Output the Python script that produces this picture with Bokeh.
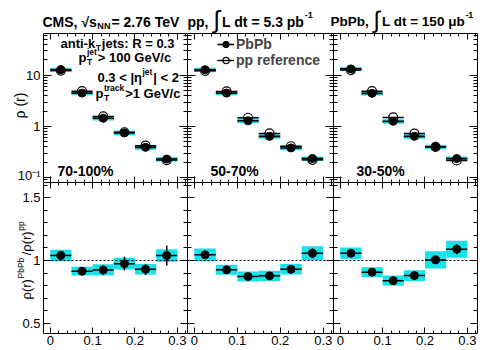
import math
from bokeh.plotting import figure
from bokeh.models import (Range1d, ColumnDataSource, Label, LinearAxis, LogAxis,
                          Legend, LegendItem, SingleIntervalTicker, LogTicker,
                          CustomJSTickFormatter, BasicTickFormatter)
from bokeh.layouts import column, row
from bokeh.embed import file_html
from bokeh.resources import INLINE

# ---------------- data ----------------
bin_low = [0.00, 0.05, 0.10, 0.15, 0.20, 0.25]
bin_high = [0.05, 0.10, 0.15, 0.20, 0.25, 0.30]
centrality_labels = ["70-100%", "50-70%", "30-50%"]

rho_pbpb_70_100 = [12.9, 4.5, 1.45, 0.75, 0.39, 0.23]
rho_pp_70_100 = [12.4, 4.9, 1.57, 0.77, 0.42, 0.22]
rho_sys_70_100 = [0.09, 0.09, 0.10, 0.10, 0.10, 0.10]
ratio_70_100 = [1.04, 0.915, 0.925, 0.975, 0.93, 1.04]
ratio_stat_70_100 = [0.012, 0.018, 0.04, 0.055, 0.045, 0.08]
ratio_sys_70_100 = [0.045, 0.035, 0.045, 0.047, 0.042, 0.05]

rho_pbpb_50_70 = [12.9, 4.5, 1.29, 0.64, 0.38, 0.235]
rho_pp_50_70 = [12.3, 4.86, 1.48, 0.73, 0.41, 0.222]
rho_sys_50_70 = [0.09, 0.09, 0.10, 0.10, 0.10, 0.10]
ratio_50_70 = [1.045, 0.926, 0.873, 0.878, 0.93, 1.058]
ratio_stat_50_70 = [0.01, 0.012, 0.012, 0.015, 0.02, 0.04]
ratio_sys_50_70 = [0.05, 0.04, 0.039, 0.04, 0.042, 0.056]

rho_pbpb_30_50 = [13.4, 4.45, 1.26, 0.64, 0.40, 0.235]
rho_pp_30_50 = [12.7, 4.9, 1.5, 0.727, 0.398, 0.216]
rho_sys_30_50 = [0.09, 0.09, 0.10, 0.10, 0.10, 0.10]
ratio_30_50 = [1.058, 0.907, 0.84, 0.88, 1.005, 1.09]
ratio_stat_30_50 = [0.01, 0.012, 0.015, 0.02, 0.02, 0.04]
ratio_sys_30_50 = [0.045, 0.04, 0.04, 0.043, 0.068, 0.068]

ratio_reference = [1.0]
x_ticks_interval = 0.1
upper_y_labels = {0.1: "10\u207b\u00b9", 1: "1", 10: "10"}
lower_y_labels = {1: "1"}
x_labels = {0: "0"}

panels = [
    (rho_pbpb_70_100, rho_pp_70_100, rho_sys_70_100, ratio_70_100, ratio_stat_70_100, ratio_sys_70_100),
    (rho_pbpb_50_70, rho_pp_50_70, rho_sys_50_70, ratio_50_70, ratio_stat_50_70, ratio_sys_50_70),
    (rho_pbpb_30_50, rho_pp_30_50, rho_sys_30_50, ratio_30_50, ratio_stat_30_50, ratio_sys_30_50),
]

# ---------------- style ----------------
FONT = "Liberation Sans"
CYAN = "#16e2ea"
X_LO, X_HI = -0.016, 0.324
FRAME_W = 144
LEFT_PAD = 43  # px of room for y labels inside first column

BOLD_W = {" ": .278, "%": .889, ",": .278, "-": .333, ".": .278, "/": .278, ":": .333,
          "<": .584, "=": .584, ">": .584, "|": .280, "(": .333, ")": .333,
          "A": .722, "C": .722, "G": .778, "L": .611, "M": .833, "N": .722, "P": .667,
          "R": .722, "S": .667, "T": .611, "V": .667,
          "a": .556, "b": .611, "c": .556, "d": .611, "e": .556, "f": .333, "i": .278,
          "j": .278, "k": .556, "n": .611, "o": .611, "p": .611, "r": .389, "s": .556,
          "t": .333, "\u03b7": .611, "\u03bc": .611, "\u221a": .549, "\u222b": .274, "\u03c1": .611}
for _d in "0123456789":
    BOLD_W[_d] = .556
REG_W = {" ": .278, "(": .333, ")": .333, "/": .278, "P": .667, "b": .556, "p": .556,
         "e": .556, "r": .333, "\u03c1": .58}


def tw(s, size, bold):
    t = BOLD_W if bold else REG_W
    return sum(t.get(ch, 0.58) for ch in s) * size


def rich(fig, x, y, pieces, size, bold=True, angle=0.0, gap=1.5):
    ca, sa = math.cos(angle), math.sin(angle)
    small = size * 0.65
    style = "bold" if bold else "normal"

    def put(t, along, across, fs, fstyle=style):
        fig.add_layout(Label(x=x + along * ca - across * sa, y=y + along * sa + across * ca,
                             x_units="screen", y_units="screen", text=t,
                             text_font_size=f"{fs:.1f}px", text_font_style=fstyle,
                             text_font=FONT, text_align="left", text_baseline="middle",
                             angle=angle, text_color="black"))
    pos = 0.0
    for piece in pieces:
        kind = piece[0]
        if kind == "n":
            put(piece[1], pos, 0, size)
            pos += tw(piece[1], size, bold)
        elif kind == "sup":
            put(piece[1], pos + 0.5, size * 0.45, small)
            pos += tw(piece[1], small, bold) + gap
        elif kind == "sub":
            put(piece[1], pos + 0.5, -size * 0.32, small)
            pos += tw(piece[1], small, bold) + gap
        elif kind == "supsub":
            put(piece[1], pos + 0.5, size * 0.45, small)
            put(piece[2], pos + 0.5, -size * 0.35, small)
            pos += max(tw(piece[1], small, bold), tw(piece[2], small, bold)) + gap
        elif kind == "big":
            fs = size * 1.75
            put(piece[1], pos + 1, size * 0.12, fs, "normal")
            pos += 0.274 * fs + 3


def style_axis(ax, tin, mtin, labels):
    ax.major_tick_in = tin
    ax.major_tick_out = 0
    ax.minor_tick_in = mtin
    ax.minor_tick_out = 0
    ax.axis_line_color = "black"
    ax.major_tick_line_color = "black"
    ax.minor_tick_line_color = "black"
    ax.axis_line_width = 1
    ax.axis_label = None
    ax.bounds = (X_LO, X_HI) if ax in x_axes else "auto"
    if labels:
        ax.major_label_text_font = FONT
        ax.major_label_text_font_size = "13px"
        ax.major_label_text_color = "black"
        ax.major_label_standoff = 3
    else:
        ax.formatter = CustomJSTickFormatter(code="return ''")
        ax.major_label_text_font_size = "0px"
        ax.major_label_standoff = 0


x_axes = []
col_w = [FRAME_W + LEFT_PAD, 146, 147]
col_br = [0, 0, 3]
TOP_H, BOT_H = 149, 168

top_figs, bot_figs = [], []
for i, (pb, pp, psys, ra, rst, rsy) in enumerate(panels):
    xc = [(a + b) / 2 for a, b in zip(bin_low, bin_high)]
    src_up = ColumnDataSource(dict(
        lo=bin_low, hi=bin_high, xc=xc, pb=pb, pp=pp,
        bt=[v * (1 - s) for v, s in zip(pb, psys)], tp=[v * (1 + s) for v, s in zip(pb, psys)]))
    src_lo = ColumnDataSource(dict(
        lo=bin_low, hi=bin_high, xc=xc, r=ra,
        bt=[v - s for v, s in zip(ra, rsy)], tp=[v + s for v, s in zip(ra, rsy)],
        eb=[v - s for v, s in zip(ra, rst)], et=[v + s for v, s in zip(ra, rst)]))

    if i == 0:
        xr = Range1d(X_LO - LEFT_PAD * (X_HI - X_LO) / FRAME_W, X_HI)
    else:
        xr = Range1d(X_LO, X_HI)
    # ----- upper -----
    p = figure(width=col_w[i], height=TOP_H, x_range=xr, y_range=Range1d(0.08, 66),
               y_axis_type="log", output_backend="svg", toolbar_location=None,
               min_border_left=0, min_border_right=col_br[i],
               min_border_top=0, min_border_bottom=0)
    p.quad(left="lo", right="hi", bottom="bt", top="tp", source=src_up,
           fill_color=CYAN, line_color=None)
    s_pp = p.segment(x0="lo", x1="hi", y0="pp", y1="pp", source=src_up,
                     line_color="black", line_width=1.4)
    s_pb = p.segment(x0="lo", x1="hi", y0="pb", y1="pb", source=src_up,
                     line_color="black", line_width=1.6)
    c_pp = p.scatter(x="xc", y="pp", source=src_up, size=9, marker="circle",
                     fill_alpha=0, line_color="black", line_width=1.2)
    c_pb = p.scatter(x="xc", y="pb", source=src_up, size=8, marker="circle",
                     fill_color="black", line_color="black")
    # ----- lower -----
    q = figure(width=col_w[i], height=BOT_H, x_range=xr, y_range=Range1d(0.42, 1.62),
               output_backend="svg", toolbar_location=None,
               min_border_left=0, min_border_right=col_br[i],
               min_border_top=0, min_border_bottom=17)
    q.quad(left="lo", right="hi", bottom="bt", top="tp", source=src_lo,
           fill_color=CYAN, line_color=None)
    q.segment(x0=[X_LO], x1=[X_HI], y0=ratio_reference, y1=ratio_reference,
              line_color="black", line_dash="2 2", line_width=1.2)
    q.segment(x0="lo", x1="hi", y0="r", y1="r", source=src_lo, line_color="black", line_width=1.5)
    q.segment(x0="xc", x1="xc", y0="eb", y1="et", source=src_lo, line_color="black", line_width=1.5)
    q.scatter(x="xc", y="r", source=src_lo, size=8, marker="circle",
              fill_color="black", line_color="black")

    for fig, is_top in ((p, True), (q, False)):
        fig.xgrid.visible = False
        fig.ygrid.visible = False
        fig.outline_line_color = None
        fig.background_fill_color = "white"
        fig.border_fill_color = "white"
        # x axes
        bx = fig.xaxis[0]
        x_axes.append(bx)
        bx.ticker = SingleIntervalTicker(interval=x_ticks_interval, num_minor_ticks=5)
        style_axis(bx, 6, 3, labels=not is_top)
        if not is_top:
            bx.major_label_overrides = x_labels
            bx.major_label_standoff = 2
        tx = LinearAxis(ticker=SingleIntervalTicker(interval=x_ticks_interval, num_minor_ticks=5))
        x_axes.append(tx)
        style_axis(tx, 6, 3, labels=False)
        fig.add_layout(tx, "above")
        # y axes
        ly = fig.yaxis[0]
        if is_top:
            ly.ticker = LogTicker(num_minor_ticks=10)
            ly.formatter = BasicTickFormatter()
            style_axis(ly, 8, 4, labels=(i == 0))
            ry = LogAxis(ticker=LogTicker(num_minor_ticks=10))
            style_axis(ry, 8, 4, labels=False)
        else:
            ly.ticker = SingleIntervalTicker(interval=0.5, num_minor_ticks=5)
            style_axis(ly, 7, 4, labels=(i == 0))
            ry = LinearAxis(ticker=SingleIntervalTicker(interval=0.5, num_minor_ticks=5))
            style_axis(ry, 7, 4, labels=False)
        if i == 0:
            ly.major_label_overrides = upper_y_labels if is_top else lower_y_labels
            ly.fixed_location = X_LO
        fig.add_layout(ry, "right")

    # centrality label
    p.add_layout(Label(x=[57, 23, 23][i], y=12, x_units="screen", y_units="screen",
                       text=centrality_labels[i], text_font=FONT, text_font_size="14px",
                       text_font_style="bold", text_baseline="middle", text_color="black"))

    if i == 1:
        common = dict(orientation="vertical", background_fill_alpha=0, border_line_color=None,
                      padding=0, margin=0, spacing=0, glyph_width=17, glyph_height=16,
                      label_height=13, label_standoff=2, label_text_font=FONT,
                      label_text_font_size="14px", label_text_font_style="bold",
                      label_text_baseline="middle")
        p.add_layout(Legend(items=[LegendItem(label="PbPb", renderers=[s_pb, c_pb])],
                            location=(30, 130), **common))
        p.add_layout(Legend(items=[LegendItem(label="pp reference", renderers=[s_pp, c_pp])],
                            location=(30, 114), **common))

    top_figs.append(p)
    bot_figs.append(q)

# ---------------- title strip ----------------
t = figure(width=480, height=33, x_range=Range1d(0, 1), y_range=Range1d(0, 1),
           x_axis_type=None, y_axis_type=None, output_backend="svg", toolbar_location=None,
           min_border=0)
t.xgrid.visible = False
t.ygrid.visible = False
t.outline_line_color = None
t.border_fill_color = "white"
rich(t, 42, 12, [("n", "CMS, "), ("n", "\u221a"), ("n", "s"), ("sub", "NN"),
                 ("n", " = 2.76 TeV")], 14)
rich(t, 187, 12, [("n", "pp, "), ("big", "\u222b"), ("n", "L dt = 5.3 pb"), ("sup", "-1")], 14)
rich(t, 330, 12, [("n", "PbPb, "), ("big", "\u222b"), ("n", "L dt = 150 \u03bcb"), ("sup", "-1")], 13.5)

# ---------------- panel-1 annotations ----------------
p1, q1 = top_figs[0], bot_figs[0]
rich(p1, 60, 139, [("n", "anti-k"), ("sub", "T"), ("n", " jets: R = 0.3")], 13)
rich(p1, 78, 125, [("n", "p"), ("supsub", "jet", "T"), ("n", " > 100 GeV/c")], 13)
rich(p1, 97, 105, [("n", "0.3 < |\u03b7"), ("sup", "jet"), ("n", "| < 2")], 13)
rich(p1, 95, 89, [("n", "p"), ("supsub", "track", "T"), ("n", " >1 GeV/c")], 13)

# y axis titles
p1.add_layout(Label(x=19, y=77, x_units="screen", y_units="screen", text="\u03c1 (r)",
                    text_font=FONT, text_font_size="14px", angle=math.pi / 2,
                    text_align="center", text_baseline="middle", text_color="black"))
rich(q1, 26, 34, [("n", "\u03c1(r)"), ("sup", "PbPb"), ("n", "/\u03c1(r)"), ("sup", "pp")],
     13, bold=False, angle=math.pi / 2, gap=3)

layout = column(t, row(*top_figs), row(*bot_figs))
open("out.html", "w").write(file_html(layout, INLINE))
